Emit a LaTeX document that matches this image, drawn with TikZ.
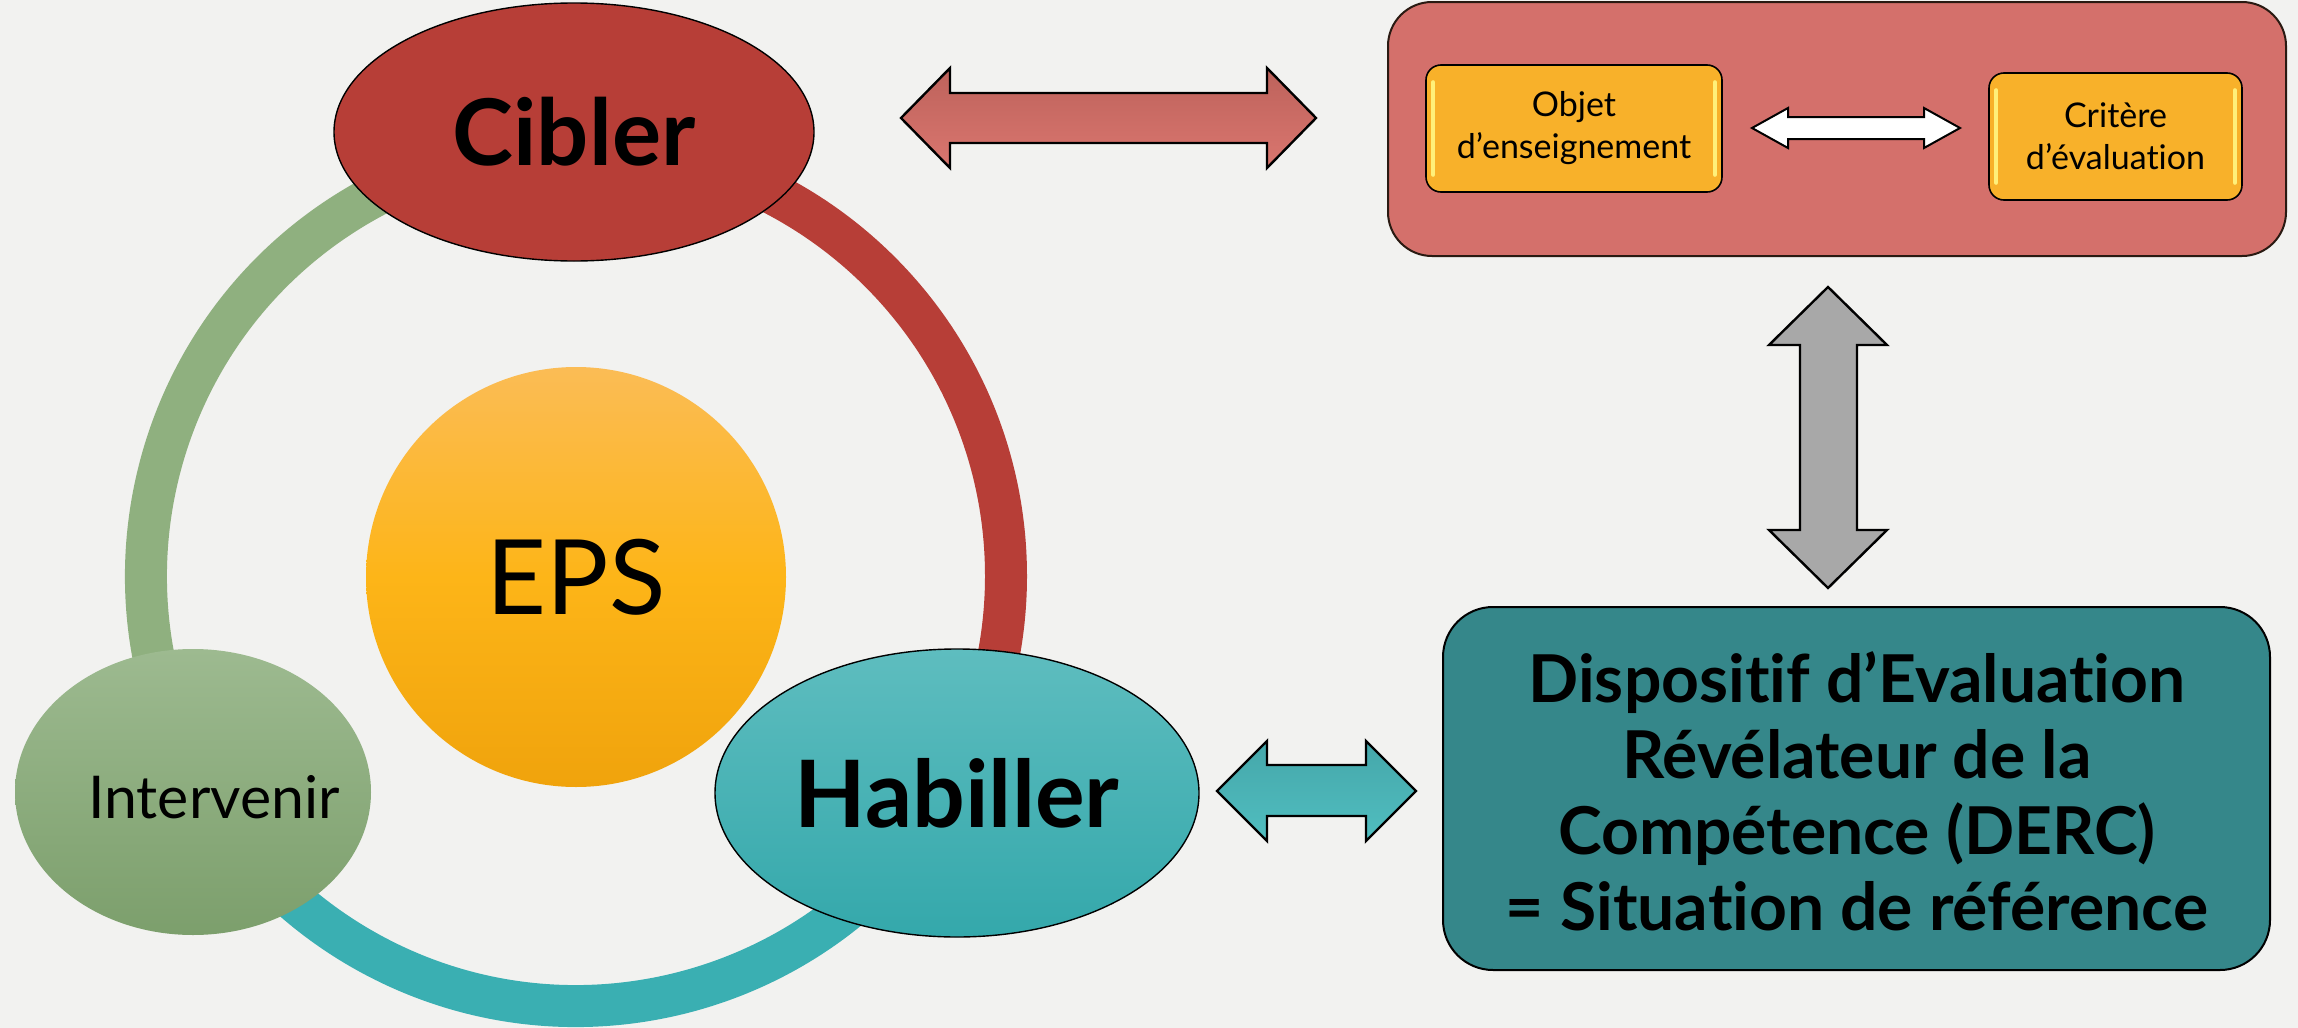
\documentclass[tikz,border=0pt]{standalone}
\usepackage{fontspec}
\setmainfont{Lato}[Ligatures=NoCommon]
\usetikzlibrary{shapes.geometric}
\definecolor{bg}{HTML}{F2F2F0}
\definecolor{ringred}{HTML}{B73E37}
\definecolor{ringgreen}{HTML}{8FB07F}
\definecolor{ringteal}{HTML}{3AAFB2}
\definecolor{epsTop}{HTML}{FBBC55}
\definecolor{epsMid}{HTML}{FDB518}
\definecolor{epsBot}{HTML}{F0A30C}
\definecolor{greenTop}{HTML}{9DBA90}
\definecolor{greenBot}{HTML}{7C9F6C}
\definecolor{tealTop}{HTML}{5EBDBF}
\definecolor{tealBot}{HTML}{34A8AB}
\definecolor{salmon}{HTML}{D4706B}
\definecolor{boxorange}{HTML}{F8B12A}
\definecolor{hl}{HTML}{FFF07A}
\definecolor{dercteal}{HTML}{35878A}
\definecolor{darkedge}{HTML}{2A1A12}
\definecolor{arrRedTop}{HTML}{BD625B}
\definecolor{arrRedBot}{HTML}{DA766F}
\definecolor{arrTealTop}{HTML}{45A7AA}
\definecolor{arrTealBot}{HTML}{50BEC0}
\definecolor{arrGray}{HTML}{A8A8A8}
\tikzset{
  ringarc/.style={line width=21pt},
  bigell/.style={ellipse, inner sep=0pt},
  innerbox/.style={draw=black, line width=0.8pt, fill=boxorange, rounded corners=7.5pt,
    align=center, font=\fontsize{17}{21}\selectfont, inner sep=0pt},
  gloss/.style={hl, line width=2pt, line cap=round},
  blockarrow/.style={draw=black, line width=1.2pt, line join=miter},
}
\begin{document}
\begin{tikzpicture}[x=0.5pt,y=-0.5pt]
\fill[bg] (0,0) rectangle (2298,1028);
\useasboundingbox (0,0) rectangle (2298,1028);

% ring
\coordinate (ringc) at (576,576);
\draw[ringarc, ringgreen] (ringc) ++(210:215pt) arc[start angle=210, end angle=90, radius=215pt];
\draw[ringarc, ringred] (ringc) ++(90:215pt) arc[start angle=90, end angle=-30, radius=215pt];
\draw[ringarc, ringteal] (ringc) ++(-30:215pt) arc[start angle=-30, end angle=-150, radius=215pt];

% EPS
\node[circle, minimum size=210pt, inner sep=0pt, top color=epsTop, bottom color=epsBot, middle color=epsMid,
  font=\fontsize{52}{60}\selectfont] (eps) at (576,577) {EPS};

% ellipses
\node[bigell, draw=black, line width=0.7pt, fill=ringred, minimum width=240pt, minimum height=129pt,
  font=\bfseries\fontsize{46}{50}\selectfont] (cibler) at (574,132) {Cibler};
\node[bigell, top color=greenTop, bottom color=greenBot, minimum width=178pt, minimum height=143pt] (interv) at (193,792) {};
\node[font=\fontsize{29.5}{34}\selectfont, inner sep=0pt] (intervText) at (214,797) {Intervenir};
\node[bigell, draw=black, line width=0.7pt, top color=tealTop, bottom color=tealBot, minimum width=242pt, minimum height=144pt,
  font=\bfseries\fontsize{46.5}{50}\selectfont] (habil) at (957,793) {Habiller};

% top-right box
\node[draw=darkedge, line width=1pt, fill=salmon, rounded corners=22pt, minimum width=449pt, minimum height=127pt]
  (topbox) at (1837,129) {};
\node[innerbox, minimum width=148pt, minimum height=63.5pt] (objet) at (1574,128.5) {Objet\\d’enseignement};
\node[innerbox, minimum width=126.5pt, minimum height=63.5pt] (crit) at (2115.5,136.5) {Critère\\d’évaluation};
\foreach \b in {objet,crit}{
  \draw[gloss] ([xshift=4pt,yshift=-9pt]\b.north west) -- ([xshift=4pt,yshift=9pt]\b.south west);
  \draw[gloss] ([xshift=-4pt,yshift=-9pt]\b.north east) -- ([xshift=-4pt,yshift=9pt]\b.south east);
}

% DERC box
\node[draw=black, line width=1pt, fill=dercteal, rounded corners=25pt, minimum width=413.5pt, minimum height=181.5pt]
  (derc) at (1856.5,788.5) {};
\node[align=center, font=\bfseries\fontsize{33}{38}\selectfont, inner sep=0pt] (dercText) at (1857,791)
  {Dispositif d’Evaluation\\Révélateur de la\\Compétence (DERC)\\= Situation de référence};

% block arrows
\draw[blockarrow, top color=arrRedTop, bottom color=arrRedBot]
  (901,118) -- (950,68) -- (950,93) -- (1267,93) -- (1267,68) -- (1316,118)
  -- (1267,168) -- (1267,143) -- (950,143) -- (950,168) -- cycle;
\draw[blockarrow, fill=white, line width=1pt]
  (1752,128) -- (1788,108) -- (1788,117) -- (1924,117) -- (1924,108) -- (1960,128)
  -- (1924,148) -- (1924,139) -- (1788,139) -- (1788,148) -- cycle;
\draw[blockarrow, fill=arrGray]
  (1828,287) -- (1887,345) -- (1857,345) -- (1857,530) -- (1887,530) -- (1828,588)
  -- (1769,530) -- (1800,530) -- (1800,345) -- (1769,345) -- cycle;
\draw[blockarrow, top color=arrTealTop, bottom color=arrTealBot]
  (1217,791) -- (1267,741) -- (1267,765) -- (1366,765) -- (1366,741) -- (1416,791)
  -- (1366,841) -- (1366,816) -- (1267,816) -- (1267,841) -- cycle;
\end{tikzpicture}
\end{document}
